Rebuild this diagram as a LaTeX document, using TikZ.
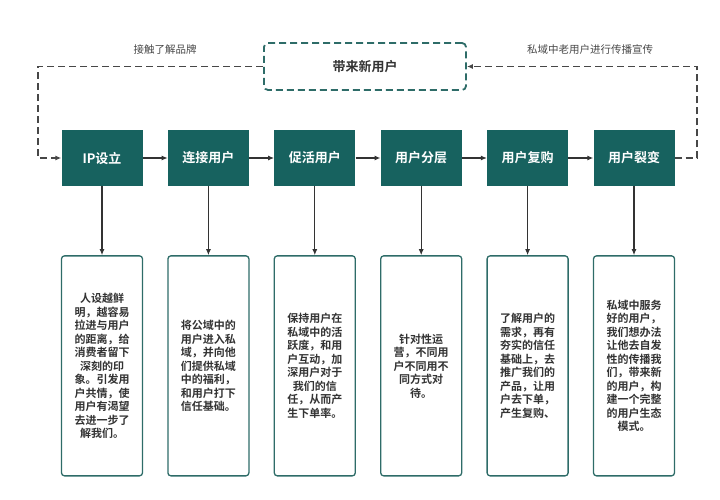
\documentclass[tikz,border=0pt]{standalone}
\usepackage{fontspec}
\setmainfont{Noto Sans CJK SC}[BoldFont={Noto Sans CJK SC Bold}]
\usetikzlibrary{arrows.meta,positioning}
\definecolor{stepteal}{RGB}{23,98,95}
\definecolor{edgeteal}{RGB}{46,108,104}
\definecolor{inkgray}{RGB}{51,51,51}

\begin{document}
\begin{tikzpicture}[x=1pt,y=1pt,
  every node/.style={font=\fontsize{11}{13.5}\selectfont},
  stage/.style={fill=stepteal,text=white,minimum width=81pt,minimum height=56pt,
                inner sep=0pt,font=\fontsize{13}{15}\selectfont\bfseries},
  note/.style={draw=edgeteal,line width=1.3pt,rounded corners=3pt,minimum width=81pt,
               minimum height=220pt,inner sep=0pt,align=center,text=inkgray,
               font=\fontsize{11}{13.5}\selectfont\bfseries},
  flow/.style={-{Latex[length=6pt,width=5pt]},inkgray,line width=1.1pt},
  backflow/.style={-{Latex[length=6pt,width=5pt]},inkgray!90,line width=1.5pt,
                   dash pattern=on 7pt off 4pt},
  newbox/.style={draw=edgeteal,line width=1.8pt,dash pattern=on 7pt off 4pt,
                 rounded corners=4pt,minimum width=202pt,minimum height=47pt,
                 text=inkgray,font=\fontsize{13}{15}\selectfont\bfseries},
  lbl/.style={text=inkgray!90,font=\fontsize{10.5}{12}\selectfont}]
\useasboundingbox (0,0) rectangle (720,-500);
% stages
\node[stage] (ip) at (102,-158) {IP设立};
\node[stage,right=25pt of ip] (connect) {连接用户};
\node[stage,right=25pt of connect] (activate) {促活用户};
\node[stage,right=25pt of activate] (layer) {用户分层};
\node[stage,right=25pt of layer] (rebuy) {用户复购};
\node[stage,right=25pt of rebuy] (fission) {用户裂变};
% notes
\node[note,below=69pt of ip] (ipnote) {人设越鲜\\明，越容易\\拉进与用户\\的距离，给\\消费者留下\\深刻的印\\象。引发用\\户共情，使\\用户有渴望\\去进一步了\\解我们。};
\node[note,below=69pt of connect] (connectnote) {将公域中的\\用户进入私\\域，并向他\\们提供私域\\中的福利，\\和用户打下\\信任基础。};
\node[note,below=69pt of activate] (activatenote) {保持用户在\\私域中的活\\跃度，和用\\户互动，加\\深用户对于\\我们的信\\任，从而产\\生下单率。};
\node[note,below=69pt of layer] (layernote) {针对性运\\营，不同用\\户不同用不\\同方式对\\待。};
\node[note,below=69pt of rebuy] (rebuynote) {了解用户的\\需求，再有\\夯实的信任\\基础上，去\\推广我们的\\产品，让用\\户去下单，\\产生复购、};
\node[note,below=69pt of fission] (fissionnote) {私域中服务\\好的用户，\\我们想办法\\让他去自发\\性的传播我\\们，带来新\\的用户，构\\建一个完整\\的用户生态\\模式。};
% new users
\node[newbox] (newusers) at (365,-66.5) {带来新用户};
\node[lbl] (brandlbl) at (165,-50) {接触了解品牌};
\node[lbl] (spreadlbl) at (590,-50) {私域中老用户进行传播宣传};
\coordinate (lcorner) at (38,-66.5);
\coordinate (rcorner) at (697,-66.5);
% arrows
\draw[flow] (ip) -- (connect);
\draw[flow] (connect) -- (activate);
\draw[flow] (activate) -- (layer);
\draw[flow] (layer) -- (rebuy);
\draw[flow] (rebuy) -- (fission);
\draw[flow] (ip) -- (ipnote);
\draw[flow] (connect) -- (connectnote);
\draw[flow] (activate) -- (activatenote);
\draw[flow] (layer) -- (layernote);
\draw[flow] (rebuy) -- (rebuynote);
\draw[flow] (fission) -- (fissionnote);
\draw[backflow] (newusers.west) -- (lcorner) |- (ip.west);
\draw[backflow] (fission.east) -| (rcorner) -- (newusers.east);
\end{tikzpicture}
\end{document}
